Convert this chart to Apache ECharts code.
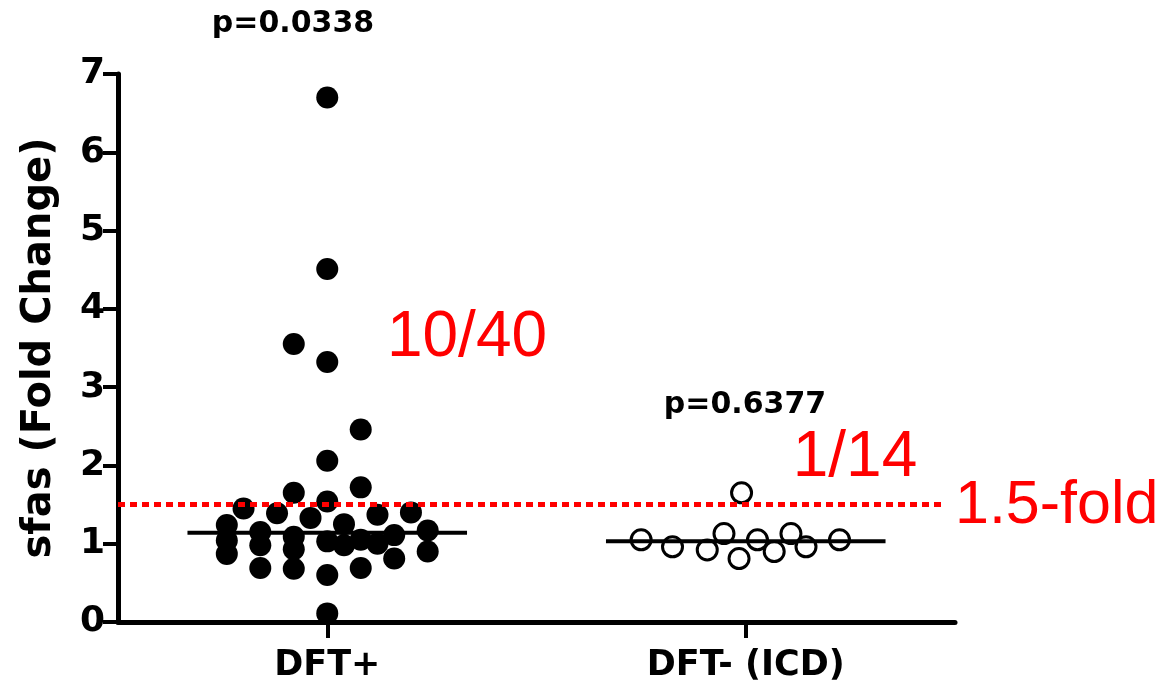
<!DOCTYPE html>
<html>
<head>
<meta charset="utf-8">
<script src="https://cdn.jsdelivr.net/npm/echarts@6/dist/echarts.min.js"></script>
<style>
html,body{margin:0;padding:0;background:#fff;}
#chart{width:1162px;height:684px;}
</style>
</head>
<body>
<div id="chart"></div>
<script>
// ---- data ----
var categories = ['DFT+', 'DFT- (ICD)'];
var groupCenters = [0.5, 1.5];
// DFT+ : horizontal jitter offset (axis units) and fold change values
var dftPlusOffset = [
  -0.24, -0.24, -0.24,
  -0.20,
  -0.16, -0.16, -0.16,
  -0.12,
  -0.08, -0.08, -0.08, -0.08, -0.08,
  -0.04,
  0, 0, 0, 0, 0, 0, 0, 0,
  0.04, 0.04,
  0.08, 0.08, 0.08, 0.08,
  0.12, 0.12,
  0.16, 0.16,
  0.20,
  0.24, 0.24
];
var dftPlusValue = [
  1.24, 1.04, 0.87,
  1.45,
  1.15, 0.98, 0.69,
  1.39,
  3.55, 1.65, 1.09, 0.93, 0.68,
  1.33,
  6.70, 4.51, 3.32, 2.06, 1.54, 1.03, 0.60, 0.11,
  1.25, 0.98,
  2.46, 1.72, 1.05, 0.69,
  1.37, 1.00,
  1.11, 0.81,
  1.40,
  1.17, 0.90
];
// DFT- (ICD)
var dftMinusOffset = [-0.25, -0.175, -0.092, -0.052, -0.016, -0.01, 0.028, 0.068, 0.108, 0.144, 0.224];
var dftMinusValue  = [1.05, 0.96, 0.92, 1.13, 0.81, 1.65, 1.05, 0.90, 1.13, 0.96, 1.05];
var medians = [1.14, 1.03];
var medianHalfWidth = 0.334;
var threshold = 1.5;
var pLabels = ['p=0.0338', 'p=0.6377'];
var fractionLabels = ['10/40', '1/14'];
var thresholdLabel = '1.5-fold';
var yTicks = [0, 1, 2, 3, 4, 5, 6, 7];

// ---- build ----
function pts(center, offs, vals) {
  return vals.map(function (v, i) { return [center + offs[i], v]; });
}
function medianLine(i) {
  return [[groupCenters[i] - medianHalfWidth, medians[i]], [groupCenters[i] + medianHalfWidth, medians[i]]];
}
var boldFont = 'DejaVu Sans';
var chart = echarts.init(document.getElementById('chart'), null, {renderer: 'canvas'});
var option = {
  animation: false,
  backgroundColor: '#ffffff',
  grid: {left: 118, right: 207, top: 74, bottom: 62, containLabel: false},
  xAxis: [
    {
      type: 'category',
      data: categories,
      boundaryGap: true,
      axisLine: {show: true, lineStyle: {color: '#000', width: 5}},
      axisTick: {show: true, alignWithLabel: true, length: 16, lineStyle: {color: '#000', width: 4}},
      axisLabel: {color: '#000', fontFamily: boldFont, fontWeight: 'bold', fontSize: 35, margin: 26},
      splitLine: {show: false}
    },
    {
      type: 'value', min: 0, max: 2, show: false
    }
  ],
  yAxis: {
    type: 'value', min: yTicks[0], max: yTicks[yTicks.length - 1], interval: 1,
    name: 'sfas (Fold Change)', nameLocation: 'middle', nameRotate: 90, nameGap: 58,
    nameTextStyle: {color: '#000', fontFamily: boldFont, fontWeight: 'bold', fontSize: 40},
    axisLine: {show: true, lineStyle: {color: '#000', width: 5}},
    axisTick: {show: true, length: 15, lineStyle: {color: '#000', width: 4}},
    axisLabel: {color: '#000', fontFamily: boldFont, fontWeight: 'bold', fontSize: 36, margin: 13},
    splitLine: {show: false}
  },
  series: [
    {
      type: 'line', xAxisIndex: 1, data: medianLine(0), symbol: 'none',
      lineStyle: {color: '#000', width: 4}, z: 2
    },
    {
      type: 'line', xAxisIndex: 1, data: medianLine(1), symbol: 'none',
      lineStyle: {color: '#000', width: 4}, z: 2
    },
    {
      type: 'scatter', xAxisIndex: 1, data: pts(groupCenters[0], dftPlusOffset, dftPlusValue),
      symbol: 'circle', symbolSize: 22, itemStyle: {color: '#000', opacity: 1}, z: 3,
      markLine: {
        silent: true, symbol: 'none', label: {show: false},
        lineStyle: {color: '#ff0000', width: 5, type: [7, 5]},
        data: [[{coord: [0, threshold]}, {coord: [1.975, threshold]}]]
      }
    },
    {
      type: 'scatter', xAxisIndex: 1, data: pts(groupCenters[1], dftMinusOffset, dftMinusValue),
      symbol: 'circle', symbolSize: 20,
      itemStyle: {color: 'rgba(0,0,0,0)', borderColor: '#000', borderWidth: 3, opacity: 1}, z: 3
    }
  ],
  graphic: [
    {type: 'text', x: 293, y: 24, style: {text: pLabels[0], fill: '#000', font: 'bold 30px "DejaVu Sans"', textAlign: 'center', textVerticalAlign: 'middle', align: 'center', verticalAlign: 'middle'}},
    {type: 'text', x: 745, y: 405, style: {text: pLabels[1], fill: '#000', font: 'bold 30px "DejaVu Sans"', textAlign: 'center', textVerticalAlign: 'middle', align: 'center', verticalAlign: 'middle'}},
    {type: 'text', x: 467, y: 338, style: {text: fractionLabels[0], fill: '#ff0000', font: '64px "Liberation Sans"', textAlign: 'center', textVerticalAlign: 'middle', align: 'center', verticalAlign: 'middle'}},
    {type: 'text', x: 855, y: 458, style: {text: fractionLabels[1], fill: '#ff0000', font: '64px "Liberation Sans"', textAlign: 'center', textVerticalAlign: 'middle', align: 'center', verticalAlign: 'middle'}},
    {type: 'text', x: 955, y: 506, style: {text: thresholdLabel, fill: '#ff0000', font: '61px "Liberation Sans"', textAlign: 'left', textVerticalAlign: 'middle', align: 'left', verticalAlign: 'middle'}}
  ]
};
chart.setOption(option);
</script>
</body>
</html>
